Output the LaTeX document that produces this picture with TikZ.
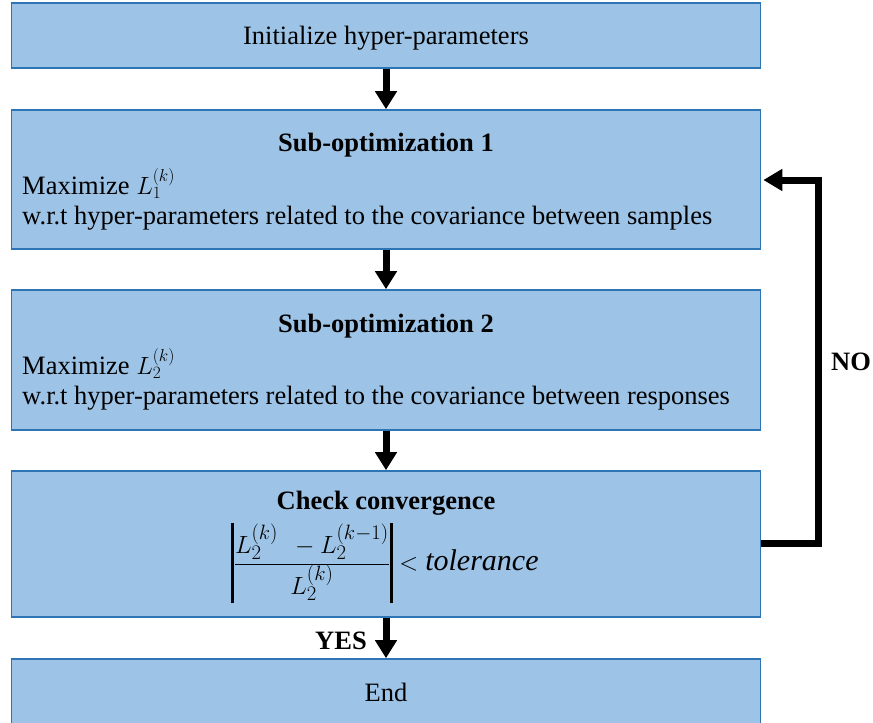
\documentclass[tikz,border=0pt]{standalone}
\usepackage{fontspec}
\setmainfont{Liberation Serif}
\usetikzlibrary{arrows.meta}
\definecolor{boxfill}{HTML}{9DC3E6}
\definecolor{boxline}{HTML}{2E75B6}
\tikzset{
  stepbox/.style={draw=boxline, line width=1.6pt, fill=boxfill, rectangle,
    minimum width=749pt, inner sep=0pt},
  flow/.style={line width=7pt, -{Triangle[width=21pt,length=18pt]}},
  txt/.style={inner sep=0pt, font=\fontsize{26.5}{32}\selectfont},
  lefttxt/.style={txt, anchor=west},
  bold/.style={txt, font=\fontsize{26.5}{32}\selectfont\bfseries}
}
% thick absolute-value bar
\newcommand{\absbar}{\vrule width 2.6pt height 47pt depth 33pt}
\begin{document}
\begin{tikzpicture}[x=1pt,y=-1pt]
\useasboundingbox (0,0) rectangle (873,723);

% process boxes
\node[stepbox, minimum height=65pt]  (init) at (386,35.5) {};
\node[stepbox, minimum height=139pt] (sub1) at (386,179.5) {};
\node[stepbox, minimum height=140pt] (sub2) at (386,360) {};
\node[stepbox, minimum height=146pt] (conv) at (386,544) {};
\node[stepbox, minimum height=72pt]  (end)  at (386,695) {};

% box texts
\node[txt] (tinit) at (386,38) {Initialize hyper-parameters};

\node[bold] (t1a) at (386,145) {Sub-optimization 1};
\node[lefttxt] (t1b) at (22,184) {Maximize $L_1^{(k)}$};
\node[lefttxt] (t1c) at (22,218) {w.r.t hyper-parameters related to the covariance between samples};

\node[bold] (t2a) at (386,326) {Sub-optimization 2};
\node[lefttxt] (t2b) at (22,364) {Maximize $L_2^{(k)}$};
\node[lefttxt] (t2c) at (22,398) {w.r.t hyper-parameters related to the covariance between responses};

\node[bold] (t3a) at (386,503) {Check convergence};
\node[inner sep=0pt, anchor=base west, font=\fontsize{30}{36}\selectfont] (t3b) at (231,570)
  {$\displaystyle \absbar\frac{L_2^{(k)}\ \,-L_2^{(k-1)}}{L_2^{(k)}}\absbar < \mathit{tolerance}$};

\node[txt] (tend) at (386,692) {End};

% flow arrows
\draw[flow] (init.south -| 386,0) -- (sub1.north -| 386,0);
\draw[flow] (sub1.south -| 386,0) -- (sub2.north -| 386,0);
\draw[flow] (sub2.south -| 386,0) -- (conv.north -| 386,0);
\draw[flow] (conv.south -| 386,0) -- (end.north -| 386,0);

% loop back when not converged
\coordinate (loopbot) at (818,543);
\coordinate (looptop) at (818,180);
\draw[line width=7pt, -{Triangle[width=21pt,length=19pt]}]
  (conv.east |- loopbot) -- (loopbot) -- (looptop) -- ([xshift=2pt]sub1.east |- looptop);

\node[bold] (no) at (851,362) {NO};
\node[bold] (yes) at (341,641) {YES};
\end{tikzpicture}
\end{document}
